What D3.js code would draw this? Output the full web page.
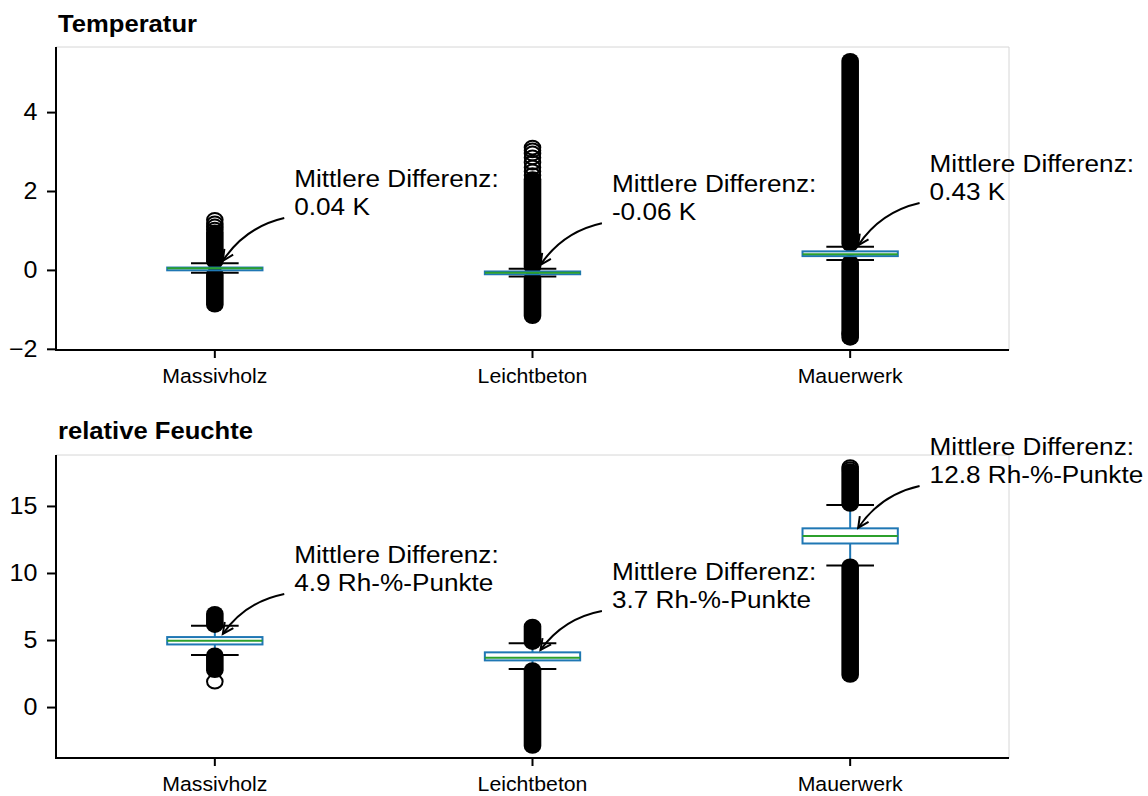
<!DOCTYPE html>
<html><head><meta charset="utf-8">
<script src="https://cdn.jsdelivr.net/npm/d3@7"></script>
<style>html,body{margin:0;padding:0;background:#fff}svg{display:block}</style>
</head><body>
<svg id="chart" width="1148" height="796"></svg>
<script>
// ---------- data ----------
const categories = ["Massivholz", "Leichtbeton", "Mauerwerk"];

// Temperatur
const tempTicks = [-2, 0, 2, 4];
const tempMedian = [0.04, -0.07, 0.40];
const tempQ1 = [-0.01, -0.11, 0.35];
const tempQ3 = [0.06, -0.04, 0.47];
const tempWhiskLo = [-0.07, -0.17, 0.25];
const tempWhiskHi = [0.17, 0.03, 0.59];
const tempDenseHigh = [[0.22, 0.95], [0.08, 2.3], [0.66, 5.3]];
const tempDenseLow = [[-0.12, -0.88], [-0.22, -1.17], [0.18, -1.72]];
const tempSparse = [[1.02, 1.1, 1.18, 1.27], [2.4, 2.5, 2.6, 2.72, 2.85, 2.95, 3.03, 3.1], [-1.62]];
const tempMeans = [0.04, -0.06, 0.43];
const tempMeanLabels = ["0.04 K", "-0.06 K", "0.43 K"];
const tempLabelY = [2.1, 1.97, 2.48];

// relative Feuchte
const rhTicks = [0, 5, 10, 15];
const rhMedian = [4.95, 3.68, 12.76];
const rhQ1 = [4.67, 3.48, 12.2];
const rhQ3 = [5.22, 4.08, 13.33];
const rhWhiskLo = [3.88, 2.84, 10.55];
const rhWhiskHi = [6.07, 4.75, 15.07];
const rhDenseHigh = [[6.12, 6.95], [4.85, 6.0], [15.15, 17.6]];
const rhDenseLow = [[3.85, 2.75], [2.75, -2.9], [10.5, 2.4]];
const rhSparse = [[1.9], [], [17.75, 17.9]];
const rhMeans = [4.9, 3.7, 12.8];
const rhMeanLabels = ["4.9 Rh-%-Punkte", "3.7 Rh-%-Punkte", "12.8 Rh-%-Punkte"];
const rhLabelY = [10.75, 9.48, 18.8];

const annoHeader = "Mittlere Differenz:";

// ---------- layout ----------
const FONT = "'Liberation Sans', Arial, Helvetica, sans-serif";
const SX = 1.09; // horizontal text stretch of the reference
const BLUE = "#1f77b4", GREEN = "#2ca02c";
const left = 56, right = 1009;
const RX = 7.8, RY = 6.9, MSW = 2;

const svg = d3.select("#chart");

const x = d3.scaleBand().domain(categories).range([left, right]).paddingInner(0).paddingOuter(0);
const bw = x.bandwidth();
const cx = c => x(c) + bw / 2;

function stext(g, tx, ty, str, size, anchor, weight) {
  return g.append("g").attr("transform", `translate(${tx},${ty}) scale(${SX},1)`)
    .append("text").attr("x", 0).attr("y", 0)
    .attr("font-family", FONT).attr("font-size", size)
    .attr("font-weight", weight || "normal")
    .attr("text-anchor", anchor || "start").attr("fill", "#000").text(str);
}

const panels = [
  { title: "Temperatur", top: 47, bottom: 350, domain: [-2.03, 5.65], ticks: tempTicks,
    tickFmt: d => d < 0 ? "\u2212" + Math.abs(d) : String(d),
    median: tempMedian, q1: tempQ1, q3: tempQ3, wlo: tempWhiskLo, whi: tempWhiskHi,
    dHigh: tempDenseHigh, dLow: tempDenseLow, sparse: tempSparse,
    means: tempMeans, labels: tempMeanLabels, labelY: tempLabelY, titleY: 32 },
  { title: "relative Feuchte", top: 455, bottom: 758, domain: [-3.8, 18.8], ticks: rhTicks,
    tickFmt: d => String(d),
    median: rhMedian, q1: rhQ1, q3: rhQ3, wlo: rhWhiskLo, whi: rhWhiskHi,
    dHigh: rhDenseHigh, dLow: rhDenseLow, sparse: rhSparse,
    means: rhMeans, labels: rhMeanLabels, labelY: rhLabelY, titleY: 439 }
];

panels.forEach(p => {
  const y = d3.scaleLinear().domain(p.domain).range([p.bottom, p.top]);
  const g = svg.append("g");

  g.append("line").attr("x1", left).attr("x2", right).attr("y1", p.top).attr("y2", p.top)
    .attr("stroke", "#d6d6d6").attr("stroke-width", 1);
  g.append("line").attr("x1", right).attr("x2", right).attr("y1", p.top).attr("y2", p.bottom)
    .attr("stroke", "#d6d6d6").attr("stroke-width", 1);

  const ya = g.append("g").attr("transform", `translate(${left},0)`)
    .call(d3.axisLeft(y).tickValues(p.ticks).tickSize(9).tickFormat(""));
  ya.select(".domain").remove();
  ya.selectAll(".tick line").attr("stroke", "#000").attr("stroke-width", 2);
  p.ticks.forEach(t => stext(g, left - 18.5, y(t) + 8.2, p.tickFmt(t), 23, "end"));

  const xa = g.append("g").attr("transform", `translate(0,${p.bottom})`)
    .call(d3.axisBottom(x).tickSize(8).tickFormat(""));
  xa.select(".domain").remove();
  xa.selectAll(".tick line").attr("stroke", "#000").attr("stroke-width", 2);
  categories.forEach(c => stext(g, cx(c), p.bottom + 33, c, 19.5, "middle"));

  g.append("line").attr("x1", left).attr("x2", left).attr("y1", p.top).attr("y2", p.bottom + 1)
    .attr("stroke", "#000").attr("stroke-width", 2);
  g.append("line").attr("x1", left - 1).attr("x2", right).attr("y1", p.bottom).attr("y2", p.bottom)
    .attr("stroke", "#000").attr("stroke-width", 2);

  stext(g, left + 2, p.titleY, p.title, 23.5, "start", "bold");

  categories.forEach((c, i) => {
    const xc = cx(c);
    const boxW = bw * 0.3, capW = boxW * 0.5;
    g.append("line").attr("x1", xc).attr("x2", xc).attr("y1", y(p.q3[i])).attr("y2", y(p.whi[i]))
      .attr("stroke", BLUE).attr("stroke-width", 2);
    g.append("line").attr("x1", xc).attr("x2", xc).attr("y1", y(p.q1[i])).attr("y2", y(p.wlo[i]))
      .attr("stroke", BLUE).attr("stroke-width", 2);
    [p.dHigh[i], p.dLow[i]].forEach(b => {
      const hi = Math.max(b[0], b[1]), lo = Math.min(b[0], b[1]);
      const ox = RX + MSW / 2, oy = RY + MSW / 2;
      g.append("rect").attr("x", xc - ox).attr("width", 2 * ox)
        .attr("y", y(hi) - oy).attr("height", y(lo) - y(hi) + 2 * oy)
        .attr("rx", ox).attr("ry", oy).attr("fill", "#000");
    });
    p.sparse[i].forEach(v => {
      g.append("ellipse").attr("cx", xc).attr("cy", y(v)).attr("rx", RX).attr("ry", RY)
        .attr("fill", "none").attr("stroke", "#000").attr("stroke-width", MSW);
    });
    [p.whi[i], p.wlo[i]].forEach(v => {
      g.append("line").attr("x1", xc - capW / 2).attr("x2", xc + capW / 2)
        .attr("y1", y(v)).attr("y2", y(v)).attr("stroke", "#000").attr("stroke-width", 2);
    });
    g.append("rect").attr("x", xc - boxW / 2).attr("width", boxW)
      .attr("y", y(p.q3[i])).attr("height", Math.max(0.5, y(p.q1[i]) - y(p.q3[i])))
      .attr("fill", "none").attr("stroke", BLUE).attr("stroke-width", 2);
    g.append("line").attr("x1", xc - boxW / 2).attr("x2", xc + boxW / 2)
      .attr("y1", y(p.median[i])).attr("y2", y(p.median[i]))
      .attr("stroke", GREEN).attr("stroke-width", 2);

    const tx = xc + 0.25 * bw;
    const ty = y(p.labelY[i]);
    stext(g, tx, ty, annoHeader, 24, "start");
    stext(g, tx, ty + 28, p.labels[i], 24, "start");
    const sx = tx - 10, sy = ty + 31;
    const ex = xc + 8, ey = y(p.means[i]) - 7.5;
    const mx = (sx + ex) / 2, my = (sy + ey) / 2;
    const dx = ex - sx, dy = ey - sy, rad = 0.2;
    const ctrlX = mx - rad * dy, ctrlY = my + rad * dx;
    g.append("path").attr("d", `M${sx},${sy}Q${ctrlX},${ctrlY} ${ex},${ey}`)
      .attr("fill", "none").attr("stroke", "#000").attr("stroke-width", 2);
    const ang = Math.atan2(ey - ctrlY, ex - ctrlX);
    const hl = 12, ha = 26 * Math.PI / 180;
    const p1 = [ex - hl * Math.cos(ang - ha), ey - hl * Math.sin(ang - ha)];
    const p2 = [ex - hl * Math.cos(ang + ha), ey - hl * Math.sin(ang + ha)];
    g.append("path").attr("d", `M${p1[0]},${p1[1]}L${ex},${ey}L${p2[0]},${p2[1]}`)
      .attr("fill", "none").attr("stroke", "#000").attr("stroke-width", 2);
  });
});
</script>
</body></html>
